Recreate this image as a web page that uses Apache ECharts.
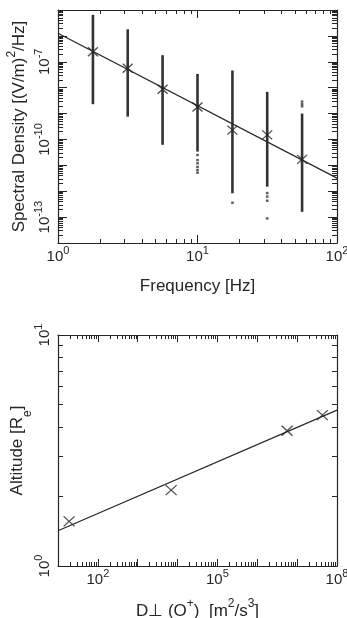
<!DOCTYPE html>
<html>
<head>
<meta charset="utf-8">
<script src="https://cdn.jsdelivr.net/npm/echarts@6/dist/echarts.min.js"></script>
<style>
  html, body { margin: 0; padding: 0; background: #fff; }
  #chart { width: 347px; height: 618px; }
</style>
</head>
<body>
<div id="chart"></div>
<script>
// ---- Upper panel: electric field spectral density vs frequency ----
const freq = [1.78, 3.16, 5.62, 10, 17.8, 31.6, 56.2];
const densityMean = [2.45e-7, 5.6e-8, 8.7e-9, 1.8e-9, 2.3e-10, 1.5e-10, 1.7e-11];
const densityLow = [2.3e-9, 7.6e-10, 6.2e-11, 3.4e-11, 8.3e-13, 1.5e-12, 1.6e-13];
const densityHigh = [6.5e-6, 1.8e-6, 1.8e-7, 3.4e-8, 4.6e-8, 6.9e-9, 1.0e-9];
const outlierFreq = [10, 10, 10, 10, 10, 10, 17.8, 31.6, 31.6, 31.6, 31.6, 56.2, 56.2, 56.2];
const outlierDensity = [2.5e-11, 1.6e-11, 1.2e-11, 8.7e-12, 6.6e-12, 5.2e-12, 3.6e-13,
                        8.5e-13, 6.2e-13, 4.3e-13, 8.9e-14, 2.9e-9, 2.3e-9, 1.9e-9];
const fitFreq = [1, 100];
const fitDensity = [1.26e-6, 3.2e-12];

// ---- Lower panel: altitude vs perpendicular diffusion coefficient ----
const dPerp = [19, 6.9e3, 5.6e6, 4.3e7];
const altitude = [1.56, 2.13, 3.85, 4.50];
const fitDPerp = [10, 1e8];
const fitAltitude = [1.42, 4.73];

// ---- Tick layout ----
const freqDecades = [0, 1, 2];
const freqLabels = [1, 10, 100];
const densityDecades = [-14, -13, -12, -11, -10, -9, -8, -7, -6, -5];
const densityLabels = [1e-13, 1e-10, 1e-7];
const dPerpDecades = [1, 2, 3, 4, 5, 6, 7, 8];
const dPerpLabels = [1e2, 1e5, 1e8];
const altitudeDecades = [0, 1];
const altitudeLabels = [1, 10];
const minorSteps = [2, 3, 4, 5, 6, 7, 8, 9];

const ink = '#262626';
const font = '"Liberation Sans", Arial, Helvetica, sans-serif';

function majorValues(decades) { return decades.map(e => Math.pow(10, e)); }
function minorValues(decades) {
  const out = [];
  decades.slice(0, -1).forEach(e => minorSteps.forEach(m => out.push(m * Math.pow(10, e))));
  return out;
}
function powerLabel(v) {
  const e = Math.round(Math.log10(v));
  return '{b|10}{s|' + e + '}';
}
const powerRich = {
  b: { fontSize: 15, fontFamily: font, color: ink, lineHeight: 19, verticalAlign: 'bottom' },
  s: { fontSize: 11, fontFamily: font, color: ink, lineHeight: 12, verticalAlign: 'top' }
};
const nameRich = {
  // base text for titles carrying superscripts
  t: { fontSize: 17, fontFamily: font, color: ink, lineHeight: 22, verticalAlign: 'bottom' },
  sup: { fontSize: 12, fontFamily: font, color: ink, lineHeight: 14, verticalAlign: 'top' },
  // base text for titles carrying subscripts
  r: { fontSize: 17, fontFamily: font, color: ink, lineHeight: 20, verticalAlign: 'top' },
  sub: { fontSize: 12, fontFamily: font, color: ink, lineHeight: 25, verticalAlign: 'bottom' }
};

// One log axis; several are stacked per side so major and minor ticks can differ in length
function logAxis(opts) {
  const ax = {
    type: 'log', logBase: 10,
    gridIndex: opts.grid, position: opts.position,
    min: opts.min, max: opts.max,
    axisLine: { show: !!opts.line, lineStyle: { color: ink, width: 1.2 } },
    axisTick: { show: true, inside: true, length: opts.len, customValues: opts.ticks,
                lineStyle: { color: ink, width: 1 } },
    axisLabel: { show: false },
    splitLine: { show: false },
    minorTick: { show: false },
    minorSplitLine: { show: false }
  };
  if (opts.labels) {
    ax.axisLabel = {
      show: true, customValues: opts.labels, formatter: powerLabel,
      rotate: opts.rotate || 0, margin: opts.margin, rich: powerRich,
      hideOverlap: false, showMinLabel: true, showMaxLabel: true
    };
  }
  if (opts.name) {
    ax.name = opts.name;
    ax.nameLocation = 'middle';
    ax.nameGap = opts.nameGap;
    ax.nameMoveOverlap = false;
    ax.nameTextStyle = { fontSize: 17, fontFamily: font, color: ink, rich: nameRich };
  }
  return ax;
}

const xAxes = [
  // upper panel
  logAxis({ grid: 0, position: 'bottom', min: 1, max: 100, line: true, len: 8,
            ticks: majorValues(freqDecades), labels: freqLabels, margin: 2,
            name: '{t|Frequency [Hz]}', nameGap: 30 }),
  logAxis({ grid: 0, position: 'bottom', min: 1, max: 100, len: 4, ticks: minorValues(freqDecades) }),
  logAxis({ grid: 0, position: 'top', min: 1, max: 100, line: true, len: 8, ticks: majorValues(freqDecades) }),
  logAxis({ grid: 0, position: 'top', min: 1, max: 100, len: 4, ticks: minorValues(freqDecades) }),
  // lower panel
  logAxis({ grid: 1, position: 'bottom', min: 10, max: 1e8, line: true, len: 7,
            ticks: majorValues(dPerpDecades), labels: dPerpLabels, margin: 2,
            name: '{t|D⊥ (O}{sup|+}{t|)  [m}{sup|2}{t|/s}{sup|3}{t|]}', nameGap: 32 }),
  logAxis({ grid: 1, position: 'bottom', min: 10, max: 1e8, len: 4, ticks: minorValues(dPerpDecades) }),
  logAxis({ grid: 1, position: 'top', min: 10, max: 1e8, line: true, len: 7, ticks: majorValues(dPerpDecades) }),
  logAxis({ grid: 1, position: 'top', min: 10, max: 1e8, len: 4, ticks: minorValues(dPerpDecades) })
];

const yAxes = [
  // upper panel
  logAxis({ grid: 0, position: 'left', min: 1e-14, max: 1e-5, line: true, len: 9,
            ticks: majorValues(densityDecades), labels: densityLabels, rotate: 90, margin: 6,
            name: '{t|Spectral Density [(V/m)}{sup|2}{t|/Hz]}', nameGap: 30 }),
  logAxis({ grid: 0, position: 'left', min: 1e-14, max: 1e-5, len: 5, ticks: minorValues(densityDecades) }),
  logAxis({ grid: 0, position: 'right', min: 1e-14, max: 1e-5, line: true, len: 9, ticks: majorValues(densityDecades) }),
  logAxis({ grid: 0, position: 'right', min: 1e-14, max: 1e-5, len: 5, ticks: minorValues(densityDecades) }),
  // lower panel
  logAxis({ grid: 1, position: 'left', min: 1, max: 10, line: true, len: 7,
            ticks: majorValues(altitudeDecades), labels: altitudeLabels, rotate: 90, margin: 6,
            name: '{r|Altitude [R}{sub|e}{r|]}', nameGap: 24 }),
  logAxis({ grid: 1, position: 'left', min: 1, max: 10, len: 5, ticks: minorValues(altitudeDecades) }),
  logAxis({ grid: 1, position: 'right', min: 1, max: 10, line: true, len: 7, ticks: majorValues(altitudeDecades) }),
  logAxis({ grid: 1, position: 'right', min: 1, max: 10, len: 5, ticks: minorValues(altitudeDecades) })
];

const crossSymbol = 'path://M0,0L10,10M10,0L0,10';
const crossStyle = { color: 'rgba(0,0,0,0)', borderColor: ink, borderWidth: 1.3 };

const zip = (a, b) => a.map((v, i) => [v, b[i]]);

const option = {
  animation: false,
  backgroundColor: '#ffffff',
  textStyle: { fontFamily: font, color: ink },
  grid: [
    { left: 58, top: 10, width: 279, height: 233, outerBoundsMode: 'none', containLabel: false },
    { left: 58, top: 335, width: 279, height: 231, outerBoundsMode: 'none', containLabel: false }
  ],
  xAxis: xAxes,
  yAxis: yAxes,
  series: [
    {
      // spread of measured densities at each frequency
      type: 'custom', xAxisIndex: 0, yAxisIndex: 0,
      data: freq.map((f, i) => [f, densityLow[i], densityHigh[i]]),
      encode: { x: 0, y: [1, 2] },
      renderItem: (params, api) => {
        const hi = api.coord([api.value(0), api.value(2)]);
        const lo = api.coord([api.value(0), api.value(1)]);
        return {
          type: 'rect',
          shape: { x: hi[0] - 1.3, y: hi[1], width: 2.6, height: lo[1] - hi[1] },
          style: { fill: '#333333' }
        };
      },
      silent: true
    },
    {
      type: 'scatter', xAxisIndex: 0, yAxisIndex: 0,
      data: zip(outlierFreq, outlierDensity),
      symbol: 'rect', symbolSize: [2.6, 2.4],
      itemStyle: { color: '#333333' }, silent: true
    },
    {
      type: 'line', xAxisIndex: 0, yAxisIndex: 0,
      data: zip(fitFreq, fitDensity),
      showSymbol: false, symbol: 'none',
      lineStyle: { color: ink, width: 1.2 }, silent: true
    },
    {
      type: 'scatter', xAxisIndex: 0, yAxisIndex: 0,
      data: zip(freq, densityMean),
      symbol: crossSymbol, symbolSize: [10, 9],
      itemStyle: crossStyle, silent: true, z: 5
    },
    {
      type: 'line', xAxisIndex: 4, yAxisIndex: 4,
      data: zip(fitDPerp, fitAltitude),
      showSymbol: false, symbol: 'none',
      lineStyle: { color: ink, width: 1.2 }, silent: true
    },
    {
      type: 'scatter', xAxisIndex: 4, yAxisIndex: 4,
      data: zip(dPerp, altitude),
      symbol: crossSymbol, symbolSize: [11, 10],
      itemStyle: crossStyle, silent: true, z: 5
    }
  ]
};

const chart = echarts.init(document.getElementById('chart'), null, { renderer: 'canvas' });
chart.setOption(option);
</script>
</body>
</html>
